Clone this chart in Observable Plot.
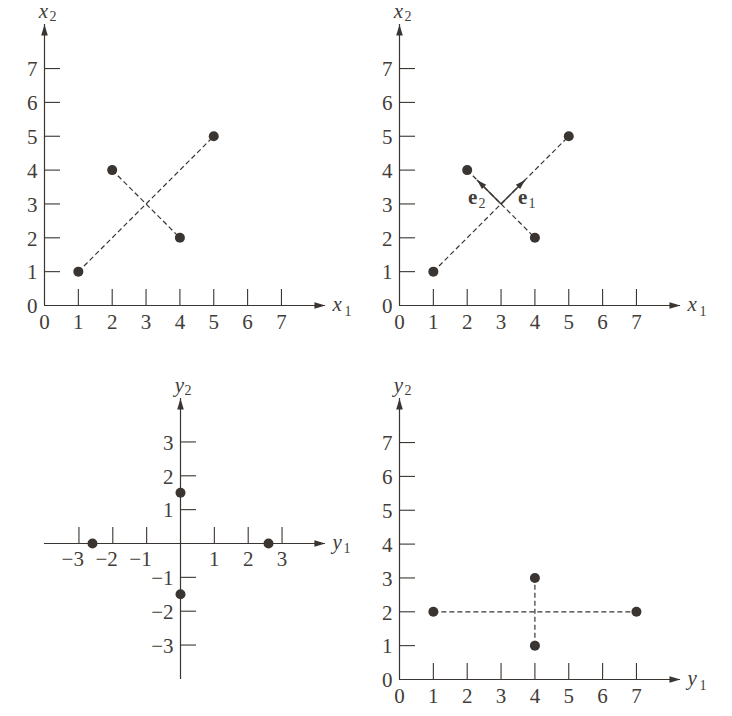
<!DOCTYPE html>
<html>
<head>
<meta charset="utf-8">
<script src="https://cdn.jsdelivr.net/npm/d3@7"></script>
<script src="https://cdn.jsdelivr.net/npm/@observablehq/plot@0.6"></script>
<style>
  html, body { margin: 0; padding: 0; background: #ffffff; }
  #fig { position: relative; width: 732px; height: 716px; overflow: hidden; }
  #fig > div { position: absolute; }
  #fig svg { overflow: visible; background: transparent; }
  #fig svg, #fig svg g, #fig svg text { font-family: "Liberation Serif", "DejaVu Serif", serif !important; }
</style>
</head>
<body>
<div id="fig">
  <div id="p1" style="left:0px;top:0px"></div>
  <div id="p2" style="left:366px;top:0px"></div>
  <div id="p3" style="left:0px;top:358px"></div>
  <div id="p4" style="left:366px;top:358px"></div>
</div>
<script>
// ---------------- data ----------------
// original coordinates (x1, x2)
const origX1 = [1, 2, 4, 5];
const origX2 = [1, 4, 2, 5];
// dashed connections (original data)
const origSegFromX = [1, 2];
const origSegFromY = [1, 4];
const origSegToX = [5, 4];
const origSegToY = [5, 2];
// eigenvectors drawn from the mean (3,3)
const eigenNames = ["e1", "e2"];
const eigenFromX = [3, 3];
const eigenFromY = [3, 3];
const eigenToX = [3.71, 2.29];
const eigenToY = [3.71, 3.71];
// principal components (y1, y2) centered
const pcY1 = [-2.6, 0, 2.6, 0];
const pcY2 = [0, 1.5, 0, -1.5];
// transformed points (y1, y2)
const trY1 = [1, 4, 4, 7];
const trY2 = [2, 3, 1, 2];
const trSegFromX = [1, 4];
const trSegFromY = [2, 1];
const trSegToX = [7, 4];
const trSegToY = [2, 3];
// tick values
const ticksPos = [1, 2, 3, 4, 5, 6, 7];
const ticksSym = [-3, -2, -1, 1, 2, 3];
// axis extents (data units)
const extPos = [0, 8.3];
const extSym = [-4.02, 4.28];

// ---------------- style ----------------
const K = 33.85;               // px per unit
const W = 366, H = 358;
const INK = "#3a3531";
const TXT = "#423d39";
const FONT = "Liberation Serif";
const FS = 21, SUB = 14;
const TICK = 16;

const fmt = d => d < 0 ? "\u2212" + (-d) : String(d);

function head(angleDeg, len, half) {
  const a = angleDeg * Math.PI / 180;
  const ux = Math.cos(a), uy = -Math.sin(a);
  const px = -uy, py = ux;
  return {
    draw(ctx) {
      ctx.moveTo(0, 0);
      ctx.lineTo(-ux * len + px * half, -uy * len + py * half);
      ctx.lineTo(-ux * len - px * half, -uy * len - py * half);
      ctx.closePath();
    }
  };
}

function segs(fx, fy, tx, ty) {
  return fx.map((_, i) => ({x1: fx[i], y1: fy[i], x2: tx[i], y2: ty[i]}));
}
function pts(xs, ys) { return xs.map((x, i) => ({x, y: ys[i]})); }

function axisLabel(letter, sub, x, y, opts) {
  return [
    Plot.text([{x, y}], {x: "x", y: "y", text: () => letter, fontStyle: "italic",
      fontFamily: FONT, fontSize: FS, fill: TXT, ...opts.main}),
    Plot.text([{x, y}], {x: "x", y: "y", text: () => sub,
      fontFamily: FONT, fontSize: SUB, fill: TXT, ...opts.sub})
  ];
}

function basePlot(ox, oy, marks) {
  return Plot.plot({
    width: W, height: H,
    marginTop: 0, marginRight: 0, marginBottom: 0, marginLeft: 0,
    x: {domain: [-ox / K, (W - ox) / K], axis: null},
    y: {domain: [-(H - oy) / K, oy / K], axis: null},
    style: {overflow: "visible", background: "transparent", fontFamily: FONT},
    marks
  });
}

// first-quadrant axes (panels 1, 2, 4)
function quadAxes(xl, yl) {
  const t = TICK / K;
  return [
    Plot.ruleY([0], {x1: extPos[0], x2: extPos[1], stroke: INK, strokeWidth: 1.2}),
    Plot.ruleX([0], {y1: extPos[0], y2: extPos[1], stroke: INK, strokeWidth: 1.2}),
    Plot.dot([{x: extPos[1], y: 0}], {x: "x", y: "y", symbol: head(0, 11, 3.3), fill: INK, stroke: "none"}),
    Plot.dot([{x: 0, y: extPos[1]}], {x: "x", y: "y", symbol: head(90, 11, 3.3), fill: INK, stroke: "none"}),
    Plot.ruleX(ticksPos, {x: d => d, y1: 0, y2: t, stroke: INK, strokeWidth: 1.1}),
    Plot.ruleY(ticksPos, {y: d => d, x1: 0, x2: t, stroke: INK, strokeWidth: 1.1}),
    Plot.text([0, ...ticksPos], {x: d => d, y: 0, text: fmt, dy: 23, lineAnchor: "bottom",
      fontFamily: FONT, fontSize: FS, fill: TXT}),
    Plot.text([0, ...ticksPos], {x: 0, y: d => d, text: fmt, dx: -7, dy: 1, textAnchor: "end", lineAnchor: "middle",
      fontFamily: FONT, fontSize: FS, fill: TXT}),
    ...axisLabel(xl[0], xl[1], extPos[1], 0, {
      main: {dx: 7, dy: 5, textAnchor: "start", lineAnchor: "bottom"},
      sub: {dx: 19, dy: 10, textAnchor: "start", lineAnchor: "bottom"}
    }),
    ...axisLabel(yl[0], yl[1], 0, extPos[1], {
      main: {dx: -1, dy: -7, textAnchor: "middle", lineAnchor: "bottom"},
      sub: {dx: 5, dy: -4, textAnchor: "start", lineAnchor: "bottom"}
    })
  ];
}

const dashStyle = {stroke: INK, strokeWidth: 1.2, strokeDasharray: "5,3"};
const dotStyle = {r: 5, fill: INK, stroke: "none"};

// Panel 1
const p1 = basePlot(44, 305, [
  ...quadAxes(["x", "1"], ["x", "2"]),
  Plot.link(segs(origSegFromX, origSegFromY, origSegToX, origSegToY), {x1: "x1", y1: "y1", x2: "x2", y2: "y2", ...dashStyle}),
  Plot.dot(pts(origX1, origX2), {x: "x", y: "y", ...dotStyle})
]);
document.getElementById("p1").appendChild(p1);

// Panel 2
const eig = segs(eigenFromX, eigenFromY, eigenToX, eigenToY).map((d, i) => ({...d, name: eigenNames[i]}));
const p2 = basePlot(33, 305, [
  ...quadAxes(["x", "1"], ["x", "2"]),
  Plot.link(segs(origSegFromX, origSegFromY, origSegToX, origSegToY), {x1: "x1", y1: "y1", x2: "x2", y2: "y2", ...dashStyle}),
  Plot.dot(pts(origX1, origX2), {x: "x", y: "y", ...dotStyle}),
  Plot.link(eig, {x1: "x1", y1: "y1", x2: "x2", y2: "y2", stroke: INK, strokeWidth: 1.5}),
  Plot.dot([eig[0]], {x: "x2", y: "y2", symbol: head(45, 10, 3), fill: INK, stroke: "none"}),
  Plot.dot([eig[1]], {x: "x2", y: "y2", symbol: head(135, 10, 3), fill: INK, stroke: "none"}),
  // labels e1, e2
  Plot.text([eig[0]], {x: "x1", y: "y1", text: () => "e", fontWeight: "bold", dx: 17, dy: 0,
    textAnchor: "start", lineAnchor: "bottom", fontFamily: FONT, fontSize: FS, fill: TXT}),
  Plot.text([eig[0]], {x: "x1", y: "y1", text: () => "1", dx: 27.5, dy: 4,
    textAnchor: "start", lineAnchor: "bottom", fontFamily: FONT, fontSize: SUB, fill: TXT}),
  Plot.text([eig[1]], {x: "x1", y: "y1", text: () => "e", fontWeight: "bold", dx: -33, dy: 0,
    textAnchor: "start", lineAnchor: "bottom", fontFamily: FONT, fontSize: FS, fill: TXT}),
  Plot.text([eig[1]], {x: "x1", y: "y1", text: () => "2", dx: -22.5, dy: 4,
    textAnchor: "start", lineAnchor: "bottom", fontFamily: FONT, fontSize: SUB, fill: TXT})
]);
document.getElementById("p2").appendChild(p2);

// Panel 3
const t = TICK / K;
const p3 = basePlot(180, 185, [
  Plot.ruleY([0], {x1: extSym[0], x2: extSym[1], stroke: INK, strokeWidth: 1.2}),
  Plot.ruleX([0], {y1: extSym[0], y2: extSym[1], stroke: INK, strokeWidth: 1.2}),
  Plot.dot([{x: extSym[1], y: 0}], {x: "x", y: "y", symbol: head(0, 11, 3.3), fill: INK, stroke: "none"}),
  Plot.dot([{x: 0, y: extSym[1]}], {x: "x", y: "y", symbol: head(90, 11, 3.3), fill: INK, stroke: "none"}),
  Plot.ruleX(ticksSym, {x: d => d, y1: 0, y2: t, stroke: INK, strokeWidth: 1.1}),
  Plot.ruleY(ticksSym, {y: d => d, x1: 0, x2: t, stroke: INK, strokeWidth: 1.1}),
  Plot.text(ticksSym.filter(d => d > 0), {x: d => d, y: 0, text: fmt, dy: 22, lineAnchor: "bottom",
    fontFamily: FONT, fontSize: FS, fill: TXT}),
  Plot.text(ticksSym.filter(d => d < 0), {x: d => d, y: 0, text: fmt, dx: 5, dy: 22, lineAnchor: "bottom",
    textAnchor: "end", fontFamily: FONT, fontSize: FS, fill: TXT}),
  Plot.text(ticksSym, {x: 0, y: d => d, text: fmt, dx: -7, dy: 1, textAnchor: "end", lineAnchor: "middle",
    fontFamily: FONT, fontSize: FS, fill: TXT}),
  ...axisLabel("y", "1", extSym[1], 0, {
    main: {dx: 7, dy: 5, textAnchor: "start", lineAnchor: "bottom"},
    sub: {dx: 18, dy: 9, textAnchor: "start", lineAnchor: "bottom"}
  }),
  ...axisLabel("y", "2", 0, extSym[1], {
    main: {dx: -1, dy: -7, textAnchor: "middle", lineAnchor: "bottom"},
    sub: {dx: 4, dy: -4, textAnchor: "start", lineAnchor: "bottom"}
  }),
  Plot.dot(pts(pcY1, pcY2), {x: "x", y: "y", ...dotStyle})
]);
document.getElementById("p3").appendChild(p3);

// Panel 4
const p4 = basePlot(33, 321, [
  ...quadAxes(["y", "1"], ["y", "2"]),
  Plot.link(segs(trSegFromX, trSegFromY, trSegToX, trSegToY), {x1: "x1", y1: "y1", x2: "x2", y2: "y2", ...dashStyle}),
  Plot.dot(pts(trY1, trY2), {x: "x", y: "y", ...dotStyle})
]);
document.getElementById("p4").appendChild(p4);
</script>
</body>
</html>
